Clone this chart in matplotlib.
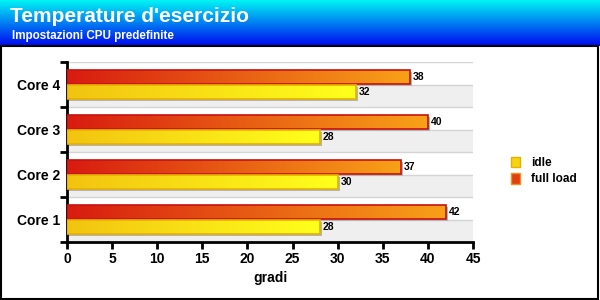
import matplotlib
matplotlib.use('Agg')
from matplotlib import pyplot as plt
from matplotlib.patches import Rectangle, Patch
from matplotlib.colors import to_rgb
import numpy as np

cores = ['Core 1', 'Core 2', 'Core 3', 'Core 4']
idle = [28, 30, 28, 32]
full_load = [42, 37, 40, 38]
xticks = [0, 5, 10, 15, 20, 25, 30, 35, 40, 45]

plt.rcParams['font.family'] = ['Liberation Sans', 'DejaVu Sans']
plt.rcParams['font.weight'] = 'bold'


def hgrad(c0, c1, n=64):
	a = np.array(to_rgb(c0))
	b = np.array(to_rgb(c1))
	t = np.linspace(0, 1, n)[:, None]
	return (a + (b - a) * t)[None, :, :]


def gbar(ax, x, y, h, c0, c1, edge):
	# shadow
	ax.add_patch(Rectangle((0.25, y - h / 2 - 0.05), x, h, facecolor='#b4b4b4',
		edgecolor='none', zorder=2))
	ax.imshow(hgrad(c0, c1), extent=(0, x, y - h / 2, y + h / 2), aspect='auto',
		interpolation='bilinear', zorder=3)
	ax.add_patch(Rectangle((0, y - h / 2), x, h, facecolor='none',
		edgecolor=edge, linewidth=1.2, zorder=4))
	ax.text(x + 0.3, y, str(x), fontsize=7.5, fontweight='bold', va='center',
		ha='left', zorder=5)


fig = plt.figure(figsize=(6, 3), dpi=100)

# header band
hax = fig.add_axes([0, 1 - 46 / 300, 1, 46 / 300])
grad = np.linspace(0, 1, 64)[:, None]
top = np.array(to_rgb('#00f4f4'))
bot = np.array(to_rgb('#0008f0'))
img = (top + (bot - top) * grad)[:, None, :]
hax.imshow(img, aspect='auto', extent=(0, 1, 0, 1))
hax.axis('off')
fig.text(10 / 600, 1 - 17 / 300, "Temperature d'esercizio", color='white',
	fontsize=15, fontweight='bold', va='center', ha='left')
fig.text(12 / 600, 1 - 36 / 300, 'Impostazioni CPU predefinite', color='white',
	fontsize=8.4, fontweight='bold', va='center', ha='left')

fig.patches.append(Rectangle((0.002, 0.004), 0.995, 1 - 46 / 300 - 0.004,
	transform=fig.transFigure, fill=False, edgecolor='black', linewidth=1.5))

ax = fig.add_axes([67 / 600, 1 - 242 / 300, 406 / 600, 180 / 300])
pos = np.arange(len(cores))
h = 0.31
for i in pos:
	ax.axhspan(i - 0.5, i, color='#efefef', zorder=0, linewidth=0)
	ax.axhline(i, color='#d4d4d4', linewidth=1, zorder=1)
	ax.axhline(i + 0.5, color='#d4d4d4', linewidth=1, zorder=1)
	gbar(ax, full_load[i], i + 0.17, h, '#d81c10', '#f8a018', '#c81010')
	gbar(ax, idle[i], i - 0.17, h, '#f2c410', '#ffff1c', '#e8b000')

ax.set_xlim(0, 45)
ax.set_ylim(-0.5, 3.5)
ax.set_xticks(xticks)
ax.set_yticks(pos)
ax.set_yticklabels(cores)
ax.set_yticks(np.arange(-0.5, 4, 1), minor=True)
ax.tick_params(axis='y', which='major', length=0, labelsize=10, pad=5)
ax.tick_params(axis='y', which='minor', length=5, width=2, direction='out')
ax.tick_params(axis='x', length=5, width=2, direction='out', labelsize=10, pad=2)
for lab in ax.get_xticklabels() + ax.get_yticklabels():
	lab.set_fontweight('bold')
for s in ['top', 'right']:
	ax.spines[s].set_visible(False)
for s in ['left', 'bottom']:
	ax.spines[s].set_linewidth(2)
ax.set_xlabel('gradi', fontsize=10, fontweight='bold', labelpad=4)

handles = [Patch(facecolor='#f8d410', edgecolor='#e8b000', label='idle'),
	Patch(facecolor='#e04010', edgecolor='#f09020', label='full load')]
fig.legend(handles=handles, loc='center left', bbox_to_anchor=(500 / 600, 1 - 171 / 300),
	frameon=False, fontsize=8.5, handlelength=0.8, handleheight=1.0,
	handletextpad=0.9, labelspacing=0.35)

plt.savefig('out.png', dpi=100)
